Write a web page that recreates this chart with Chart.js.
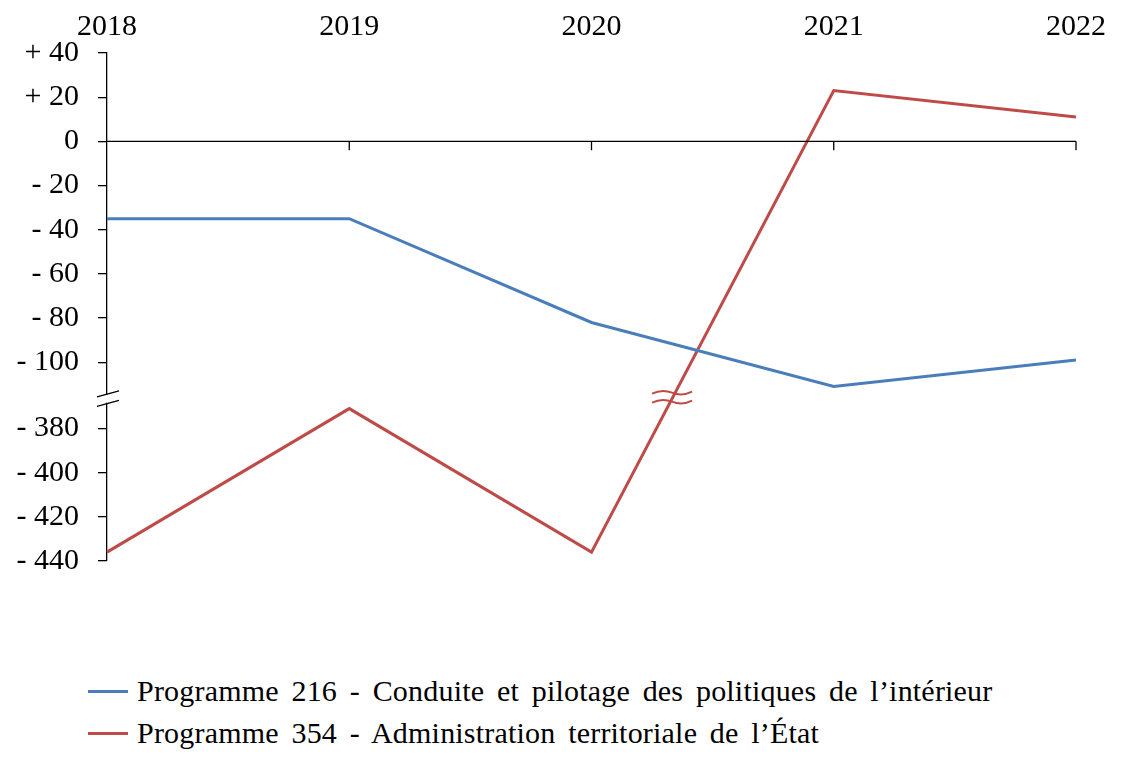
<!DOCTYPE html>
<html>
<head>
<meta charset="utf-8">
<script src="https://cdn.jsdelivr.net/npm/chart.js@4"></script>
<style>
  body { margin: 0; background: #fff; }
  #wrap { position: relative; width: 1125px; height: 769px; }
  #box { position: absolute; left: 0; top: 0; width: 1125px; height: 600px; }
  #legend {
    position: absolute; left: 88px; top: 670px;
    font-family: "Liberation Serif", serif; font-size: 30px; color: #000;
    word-spacing: 5px; letter-spacing: 0.2px;
  }
  .row { display: flex; align-items: center; height: 42px; }
  .swatch { width: 40px; height: 3px; margin-right: 9px; flex: none; }
</style>
</head>
<body>
<div id="wrap">
  <div id="box"><canvas id="chart"></canvas></div>
  <div id="legend"></div>
</div>
<script>
const years = ["2018", "2019", "2020", "2021", "2022"];
const prog216 = [-35, -35, -82, -111, -99];
const prog354 = [-436, -371, -436, 23, 11];
const seriesNames = [
  "Programme 216 - Conduite et pilotage des politiques de l’intérieur",
  "Programme 354 - Administration territoriale de l’État",
];
const seriesColors = ["#4A7EBB", "#BE4B48"];
const yTickLabels = [40, 20, 0, -20, -40, -60, -80, -100, -380, -400, -420, -440];

// broken axis: everything under -300 is pulled up by 250
const BREAK_BELOW = -300;
const BREAK_SHIFT = 250;
const BREAK_MARK = -116.5; // where the break is drawn (display units)

const toDisplay = (v) => (v < BREAK_BELOW ? v + BREAK_SHIFT : v);
const toRaw = (v) => (v < BREAK_MARK ? v - BREAK_SHIFT : v);

function fmt(v) {
  const raw = toRaw(v);
  if (raw > 0) return "+ " + raw;
  if (raw < 0) return "- " + -raw;
  return "0";
}

const font = { family: "Liberation Serif", size: 30 };

const breakMarks = {
  id: "breakMarks",
  afterDatasetsDraw(chart) {
    const { ctx, chartArea, scales } = chart;
    const x = scales.x, y = scales.y;
    const y0 = y.getPixelForValue(0);
    ctx.save();
    // zero line with ticks
    ctx.strokeStyle = "#000";
    ctx.lineWidth = 1.3;
    ctx.beginPath();
    ctx.moveTo(chartArea.left, y0);
    ctx.lineTo(chartArea.right, y0);
    years.forEach((_, i) => {
      if (i === 0) return;
      const px = x.getPixelForValue(i);
      ctx.moveTo(px, y0);
      ctx.lineTo(px, y0 + 9);
    });
    ctx.stroke();

    // axis break on y axis
    const yb = y.getPixelForValue(BREAK_MARK);
    const xl = chartArea.left;
    ctx.fillStyle = "#fff";
    ctx.fillRect(xl - 2, yb - 4, 4, 8);
    ctx.beginPath();
    ctx.moveTo(xl - 10, yb - 1.7);
    ctx.lineTo(xl + 12, yb - 7.7);
    ctx.moveTo(xl - 10, yb + 7.7);
    ctx.lineTo(xl + 12, yb + 1.7);
    ctx.stroke();

    // break on the line that crosses it
    chart.data.datasets.forEach((ds, di) => {
      const pts = chart.getDatasetMeta(di).data;
      for (let i = 0; i < pts.length - 1; i++) {
        const a = pts[i], b = pts[i + 1];
        if ((a.y - yb) * (b.y - yb) < 0 && Math.abs(ds.raw[i] - ds.raw[i + 1]) > 200) {
          const cx = a.x + (b.x - a.x) * (yb - a.y) / (b.y - a.y);
          ctx.strokeStyle = ds.borderColor;
          ctx.lineWidth = 2;
          [yb - 6, yb + 3].forEach((wy) => {
            ctx.beginPath();
            ctx.moveTo(cx - 20, wy + 1);
            ctx.quadraticCurveTo(cx - 10, wy - 4, cx, wy);
            ctx.quadraticCurveTo(cx + 10, wy + 4, cx + 20, wy - 1);
            ctx.stroke();
          });
        }
      }
    });
    ctx.restore();
  },
};

const series = [prog216, prog354];

new Chart(document.getElementById("chart"), {
  type: "line",
  data: {
    labels: years,
    datasets: series.map((vals, i) => ({
      label: seriesNames[i],
      raw: vals,
      data: vals.map(toDisplay),
      borderColor: seriesColors[i],
      backgroundColor: seriesColors[i],
      borderWidth: 3,
      pointRadius: 0,
      tension: 0,
    })),
  },
  options: {
    responsive: true,
    maintainAspectRatio: false,
    animation: false,
    layout: { padding: { left: 0, right: 49, top: 0, bottom: 39 } },
    plugins: { legend: { display: false }, tooltip: { enabled: false } },
    scales: {
      x: {
        position: "top",
        offset: false,
        grid: { display: false, drawTicks: false },
        border: { display: false },
        ticks: { color: "#000", font, padding: 8, maxRotation: 0 },
        afterFit: (s) => { s.height = 53; },
      },
      y: {
        min: -190,
        max: 40,
        grid: { drawOnChartArea: false, drawTicks: true, tickLength: 9, color: "#000", lineWidth: 1.3 },
        border: { display: true, color: "#000", width: 1.3 },
        ticks: { color: "#000", font, padding: 19, callback: (v) => fmt(v) },
        afterBuildTicks: (s) => { s.ticks = yTickLabels.map((v) => ({ value: toDisplay(v) })); },
        afterFit: (s) => { s.width = 107; },
      },
    },
  },
  plugins: [breakMarks],
});

// legend
const legend = document.getElementById("legend");
seriesNames.forEach((name, i) => {
  const row = document.createElement("div");
  row.className = "row";
  const sw = document.createElement("span");
  sw.className = "swatch";
  sw.style.background = seriesColors[i];
  const txt = document.createElement("span");
  txt.textContent = name;
  row.appendChild(sw);
  row.appendChild(txt);
  legend.appendChild(row);
});
</script>
</body>
</html>
